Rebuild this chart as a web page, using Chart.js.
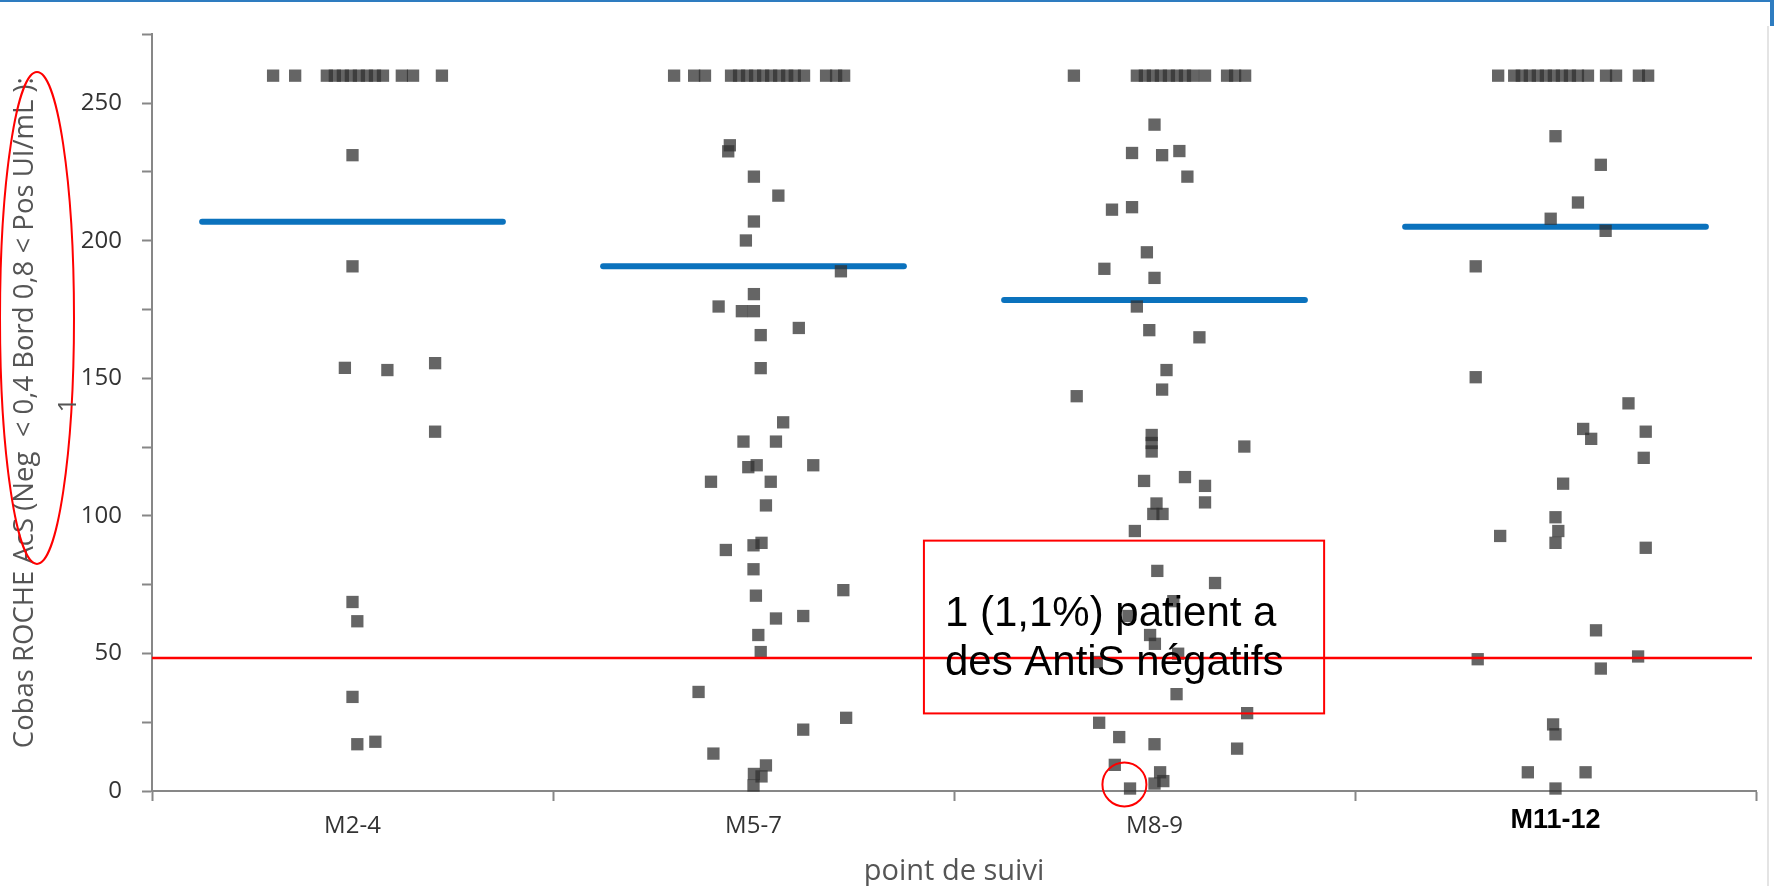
<!DOCTYPE html>
<html>
<head>
<meta charset="utf-8">
<script src="https://cdn.jsdelivr.net/npm/chart.js@4.4.1/dist/chart.umd.min.js"></script>
<style>
body { margin: 0; background: #fff; }
</style>
</head>
<body>
<canvas id="myChart" width="1774" height="886"></canvas>
<script>
const categories = ['M2-4', 'M5-7', 'M8-9', 'M11-12'];

// 260 = valeurs au-dessus de 250 (rangée du haut)
const valuesM24 = [260, 260, 260, 260, 260, 260, 260, 260, 260, 260, 260, 260, 260,
    231.1, 190.7, 153.8, 153.0, 155.5, 130.6, 68.7, 61.7, 34.2, 17.0, 17.9];
const jitterM24 = [-0.198, -0.143, -0.064, -0.044, -0.024, -0.004, 0.016, 0.036, 0.056, 0.076, 0.123, 0.151, 0.223,
    0, 0, -0.019, 0.087, 0.206, 0.206, 0, 0.012, 0, 0.012, 0.057];

const valuesM57 = [260, 260, 260, 260, 260, 260, 260, 260, 260, 260, 260, 260, 260, 260, 260, 260,
    234.7, 232.5, 223.3, 216.4, 207.0, 200.1, 188.9, 180.6, 176.1, 174.4, 174.4, 168.3, 165.7, 153.7,
    134.0, 127.0, 127.0, 118.4, 117.7, 118.4, 112.4, 112.4, 103.8, 90.2, 89.3, 87.6, 80.6, 73.0, 71.0,
    62.7, 63.6, 56.7, 50.5, 36.0, 26.6, 22.3, 13.6, 9.3, 6.2, 5.3, 2.0];
const jitterM57 = [-0.198, -0.148, -0.121, -0.056, -0.036, -0.016, 0.004, 0.024, 0.044, 0.064, 0.084, 0.103, 0.126, 0.181, 0.206, 0.226,
    -0.059, -0.063, 0.001, 0.062, 0.001, -0.019, 0.218, 0.001, -0.087, -0.029, 0.001, 0.113, 0.018, 0.018,
    0.074, -0.025, 0.056, 0.008, -0.013, 0.149, -0.106, 0.043, 0.031, 0.020, 0, -0.069, 0, 0.224, 0.006,
    0.056, 0.124, 0.012, 0.018, -0.137, 0.231, 0.124, -0.100, 0.031, 0.001, 0.020, 0];

const valuesM89 = [260, 260, 260, 260, 260, 260, 260, 260, 260, 260, 260, 260, 260,
    242.2, 231.9, 231.1, 232.6, 223.3, 211.3, 212.2, 195.8, 189.8, 186.5, 176.1, 167.5, 164.9, 153.0,
    145.9, 143.5, 129.4, 126.5, 123.4, 125.2, 112.7, 114.1, 110.9, 104.9, 104.5, 100.7, 100.7, 94.5,
    80.0, 75.6, 69.0, 63.6, 56.7, 53.5, 49.9, 46.9, 35.2, 28.3, 24.8, 19.6, 17.0, 15.4, 9.5, 6.8, 3.6, 2.7, 0.9];
const jitterM89 = [-0.201, -0.044, -0.024, -0.004, 0.016, 0.036, 0.056, 0.076, 0.096, 0.126, 0.181, 0.201, 0.226,
    0, -0.056, 0.019, 0.062, 0.082, -0.106, -0.056, -0.019, -0.125, 0, -0.044, -0.013, 0.112, 0.030,
    0.019, -0.194, -0.007, -0.007, -0.007, 0.224, -0.026, 0.076, 0.126, 0.126, 0.005, 0.020, -0.003, -0.049,
    0.007, 0.151, 0.047, -0.065, -0.011, 0.001, 0.059, -0.144, 0.055, 0.231, -0.138, -0.088, 0, 0.206, -0.099, 0.014, 0.022, 0, -0.061];

const valuesM1112 = [260, 260, 260, 260, 260, 260, 260, 260, 260, 260, 260, 260, 260, 260, 260,
    238.0, 227.6, 213.9, 208.0, 203.6, 190.7, 150.4, 140.9, 131.6, 128.0, 130.6, 121.1, 111.7, 99.5,
    94.5, 90.2, 92.7, 88.4, 58.4, 47.9, 48.9, 44.5, 24.2, 20.6, 6.8, 6.8, 0.9];
const jitterM1112 = [-0.143, -0.103, -0.084, -0.064, -0.044, -0.024, -0.004, 0.016, 0.036, 0.056, 0.081, 0.126, 0.151, 0.208, 0.231,
    0, 0.113, 0.056, -0.012, 0.125, -0.199, -0.199, 0.182, 0.069, 0.089, 0.225, 0.220, 0.019, 0,
    0.007, 0, -0.138, 0.225, 0.101, -0.194, 0.206, 0.113, -0.006, 0, -0.069, 0.075, 0];

const means = [206.9, 190.7, 178.5, 205.1];
const seuil = 48.3;

const groups = [valuesM24, valuesM57, valuesM89, valuesM1112];
const jitters = [jitterM24, jitterM57, jitterM89, jitterM1112];

let points = [];
groups.forEach(function(vals, i) {
    vals.forEach(function(v, k) {
        points.push({x: i + 0.5 + jitters[i][k], y: v});
    });
});

let xTickValues = [];
categories.forEach(function(c, i) { xTickValues.push(i, i + 0.5); });
xTickValues.push(categories.length);

const axisGray = '#878787';
const textGray = '#333333';
const titleGray = '#555555';

let datasets = [{
    type: 'line',
    data: [{x: 0, y: seuil}, {x: 3.99, y: seuil}],
    borderColor: '#ff0000',
    borderWidth: 2.5,
    pointRadius: 0,
    order: 0
}, {
    type: 'scatter',
    data: points,
    pointStyle: 'rect',
    pointRadius: 8.7,
    backgroundColor: 'rgba(50,50,50,0.75)',
    borderWidth: 0,
    clip: false,
    order: 1
}];
means.forEach(function(m, i) {
    datasets.push({
        type: 'line',
        data: [{x: i + 0.125, y: m}, {x: i + 0.875, y: m}],
        borderColor: '#0b72bd',
        borderWidth: 6,
        borderCapStyle: 'round',
        pointRadius: 0,
        order: 2
    });
});

const overlay = {
    id: 'overlay',
    beforeDraw(chart) {
        const c = chart.ctx;
        c.save();
        c.fillStyle = '#fff';
        c.fillRect(0, 0, chart.width, chart.height);
        c.restore();
    },
    afterDraw(chart) {
        const c = chart.ctx;
        const xs = chart.scales.x, ys = chart.scales.y;
        c.save();
        // bandeau de la diapo
        c.fillStyle = '#2e7cc0';
        c.fillRect(0, 0, chart.width, 2);
        c.fillRect(1770, 0, 4, 26);
        c.fillStyle = '#e4e4e4';
        c.fillRect(1767, 26, 2, chart.height - 26);

        // encadre rouge
        const bx0 = xs.getPixelForValue(1.925), bx1 = xs.getPixelForValue(2.923);
        const by0 = ys.getPixelForValue(91), by1 = ys.getPixelForValue(28.2);
        c.strokeStyle = '#ff0000';
        c.lineWidth = 2;
        c.strokeRect(bx0, by0, bx1 - bx0, by1 - by0);
        c.fillStyle = '#000';
        c.font = '42px "Liberation Sans", Arial, sans-serif';
        c.textAlign = 'left';
        c.textBaseline = 'alphabetic';
        c.fillText('1 (1,1%) patient a', bx0 + 21, by0 + 85);
        c.fillText('des AntiS négatifs', bx0 + 21, by0 + 134);

        // patient negatif entoure
        c.beginPath();
        c.arc(xs.getPixelForValue(2.425), ys.getPixelForValue(2.4), 22, 0, Math.PI * 2);
        c.stroke();

        // ellipse sur le titre de l'axe
        c.beginPath();
        c.ellipse(37, 318, 37, 246, 0, 0, Math.PI * 2);
        c.stroke();

        c.translate(69, 405);
        c.rotate(-Math.PI / 2);
        c.fillStyle = titleGray;
        c.font = '26px "Open Sans"';
        c.textAlign = 'center';
        c.textBaseline = 'middle';
        c.fillText('1', 0, 0);
        c.restore();
    }
};

var ctx = document.getElementById('myChart');
var myChart = new Chart(ctx, {
    type: 'scatter',
    data: { datasets: datasets },
    plugins: [overlay],
    options: {
        responsive: false,
        animation: false,
        events: [],
        layout: { padding: { top: 24, right: 18, left: 0, bottom: 0 } },
        plugins: { legend: { display: false }, tooltip: { enabled: false } },
        scales: {
            x: {
                type: 'linear',
                min: 0,
                max: 4,
                afterBuildTicks: function(s) {
                    s.ticks = xTickValues.map(function(v) { return {value: v}; });
                },
                afterFit: function(s) { s.height = 95; },
                grid: {
                    drawOnChartArea: false,
                    drawTicks: true,
                    tickLength: 10,
                    tickWidth: 2,
                    tickColor: function(c) {
                        return (c.tick && Number.isInteger(c.tick.value)) ? axisGray : 'rgba(0,0,0,0)';
                    }
                },
                border: { color: axisGray, width: 2 },
                ticks: {
                    autoSkip: false,
                    maxRotation: 0,
                    minRotation: 0,
                    padding: 11,
                    callback: function(v) {
                        return (v % 1 === 0.5) ? categories[Math.floor(v)] : '';
                    },
                    font: function(c) {
                        if (c.tick && c.tick.value === 3.5)
                            return { family: '"Liberation Sans", Arial', size: 27, weight: 'bold', lineHeight: 0.6 };
                        return { family: '"Open Sans"', size: 24 };
                    },
                    color: function(c) {
                        return (c.tick && c.tick.value === 3.5) ? '#000' : textGray;
                    }
                },
                title: {
                    display: true,
                    text: 'point de suivi',
                    color: titleGray,
                    font: { family: '"Open Sans"', size: 29, lineHeight: 1.0 },
                    padding: { top: 0, bottom: 0 }
                }
            },
            y: {
                min: 0,
                max: 275,
                afterFit: function(s) { s.width = 152; },
                grid: {
                    drawOnChartArea: false,
                    drawTicks: true,
                    tickLength: 10,
                    tickWidth: 2,
                    tickColor: axisGray
                },
                border: { color: axisGray, width: 2 },
                ticks: {
                    stepSize: 25,
                    padding: 20,
                    color: textGray,
                    font: { family: '"Open Sans"', size: 24 },
                    callback: function(v) { return (v % 50 === 0) ? v : ''; }
                },
                title: {
                    display: true,
                    text: 'Cobas ROCHE AcS (Neg  < 0,4 Bord 0,8 < Pos UI/mL ):',
                    color: titleGray,
                    font: { family: '"Open Sans"', size: 27.5, lineHeight: 1.0 },
                    padding: { top: 11, bottom: 0 }
                }
            }
        }
    }
});
</script>
</body>
</html>
